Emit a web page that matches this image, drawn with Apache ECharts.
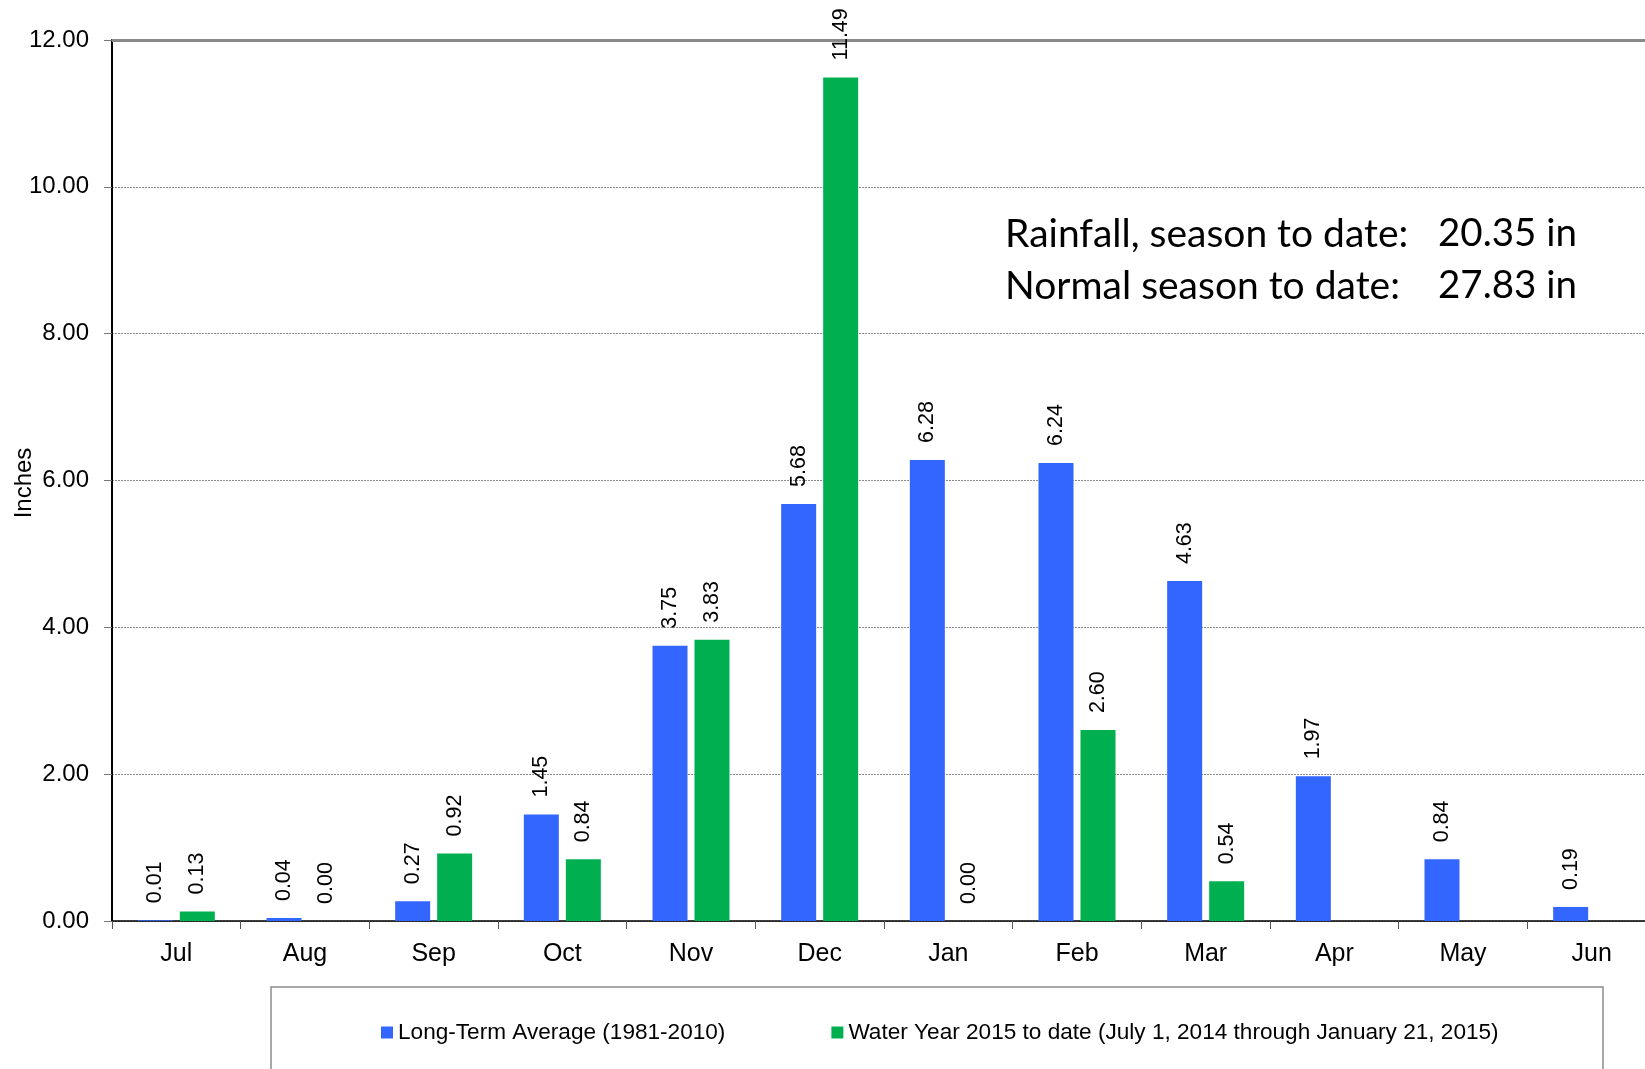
<!DOCTYPE html>
<html>
<head>
<meta charset="utf-8">
<title>Monthly Rainfall</title>
<script src="https://cdn.jsdelivr.net/npm/echarts@6/dist/echarts.min.js"></script>
<style>
  html, body { margin: 0; padding: 0; background: #fff; }
  #chart { width: 1645px; height: 1069px; }
</style>
</head>
<body>
<div id="chart"></div>
<script>
// Monthly rainfall, water year July–June (inches)
const months = ['Jul', 'Aug', 'Sep', 'Oct', 'Nov', 'Dec', 'Jan', 'Feb', 'Mar', 'Apr', 'May', 'Jun'];
const longTermAverage = [0.01, 0.04, 0.27, 1.45, 3.75, 5.68, 6.28, 6.24, 4.63, 1.97, 0.84, 0.19];
const waterYear2015 = [0.13, 0.00, 0.92, 0.84, 3.83, 11.49, 0.00, 2.60, 0.54, null, null, null];
const seriesNames = ['Long-Term Average (1981-2010)', 'Water Year 2015 to date (July 1, 2014 through January 21, 2015)'];
const yTicks = { min: 0, max: 12, interval: 2 };
const yAxisTitle = 'Inches';
const summaryLines = [
  ['Rainfall, season to date:', '20.35 in'],
  ['Normal season to date:', '27.83 in']
];

const sansFont = '"Liberation Sans", Arial, sans-serif';
const noteFont = 'Lato, "Open Sans", sans-serif';

const valueLabel = {
  show: true,
  position: 'top',
  rotate: 90,
  align: 'left',
  verticalAlign: 'middle',
  distance: 17,
  color: '#000',
  fontFamily: sansFont,
  fontSize: 21.5,
  formatter: p => (p.value == null ? '' : Number(p.value).toFixed(2))
};

const chart = echarts.init(document.getElementById('chart'), null, { renderer: 'canvas' });

// season summary, two columns of text in the upper right of the plot
const noteGraphics = [];
summaryLines.forEach((line, i) => {
  const y = 234 + i * 52;
  noteGraphics.push({
    type: 'text', x: 1005, y: y,
    style: { text: line[0], font: '39px ' + noteFont, fill: '#000', verticalAlign: 'middle' }
  });
  noteGraphics.push({
    type: 'text', x: 1438, y: y,
    style: { text: line[1], font: '38.5px ' + noteFont, fill: '#000', verticalAlign: 'middle' }
  });
});

chart.setOption({
  animation: false,
  backgroundColor: '#fff',
  grid: { left: 112, top: 40, width: 1544, height: 881, containLabel: false, outerBoundsMode: 'none' },
  legend: {
    data: seriesNames,
    left: 376,
    top: 1016,
    itemWidth: 12,
    itemHeight: 12,
    itemGap: 106,
    icon: 'rect',
    textStyle: { fontFamily: sansFont, fontSize: 22.6, color: '#000' }
  },
  xAxis: {
    type: 'category',
    data: months,
    axisLine: { lineStyle: { color: '#000', width: 1.5 } },
    axisTick: { show: true, length: 8, lineStyle: { color: '#555' } },
    axisLabel: { fontFamily: sansFont, fontSize: 25, color: '#000', margin: 21 },
    splitLine: { show: false }
  },
  yAxis: {
    type: 'value',
    min: yTicks.min,
    max: yTicks.max,
    interval: yTicks.interval,
    axisLine: { show: true, lineStyle: { color: '#000', width: 2 } },
    axisTick: { show: true, length: 8, lineStyle: { color: '#777' } },
    axisLabel: {
      fontFamily: sansFont, fontSize: 24, color: '#000', margin: 23,
      formatter: v => v.toFixed(2)
    },
    splitLine: { show: true, lineStyle: { color: '#8a8a8a', type: [2, 1], width: 1 } }
  },
  series: [
    {
      name: seriesNames[0],
      type: 'bar',
      data: longTermAverage,
      barWidth: 35,
      barGap: '20%',
      itemStyle: { color: '#3366FF' },
      label: valueLabel,
      markLine: {
        silent: true,
        symbol: 'none',
        label: { show: false },
        lineStyle: { type: 'solid', color: '#888', width: 3 },
        data: [{ yAxis: yTicks.max }],
        z: 1
      }
    },
    {
      name: seriesNames[1],
      type: 'bar',
      data: waterYear2015,
      barWidth: 35,
      barGap: '20%',
      itemStyle: { color: '#00B050' },
      label: valueLabel
    }
  ],
  graphic: [
    {
      type: 'rect',
      shape: { x: 271, y: 987, width: 1332, height: 120 },
      style: { fill: 'none', stroke: '#8c8c8c', lineWidth: 1.5 },
      z: -1
    },
    {
      // vertical axis title
      type: 'text',
      x: 24, y: 483,
      rotation: Math.PI / 2,
      style: {
        text: yAxisTitle, font: '24px ' + sansFont, fill: '#000',
        align: 'center', verticalAlign: 'middle'
      }
    }
  ].concat(noteGraphics)
});
</script>
</body>
</html>
